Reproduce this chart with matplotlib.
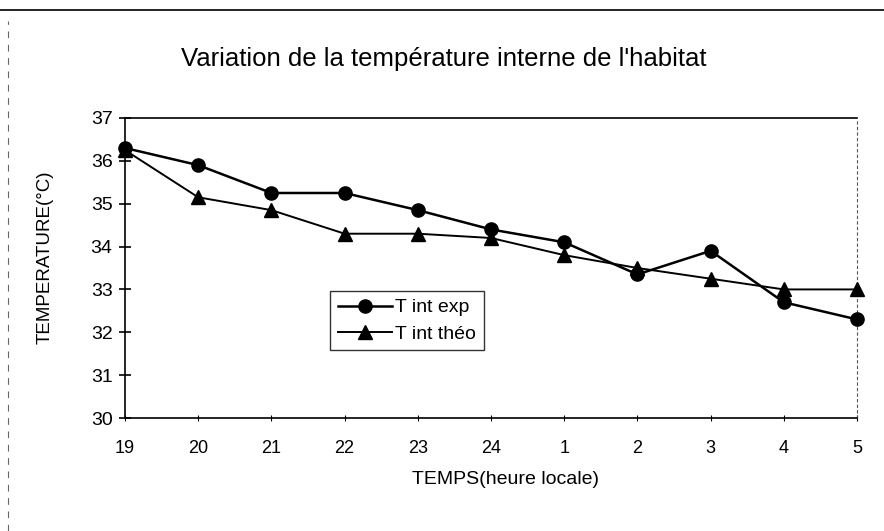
import matplotlib
matplotlib.use("Agg")
import matplotlib.pyplot as plt
from matplotlib.lines import Line2D

# Hours of the night (local time) and interior temperatures
hours = ["19", "20", "21", "22", "23", "24", "1", "2", "3", "4", "5"]
t_int_exp = [36.3, 35.9, 35.25, 35.25, 34.85, 34.4, 34.1, 33.35, 33.9, 32.7, 32.3]
t_int_theo = [36.25, 35.15, 34.85, 34.3, 34.3, 34.2, 33.8, 33.5, 33.25, 33.0, 33.0]
y_ticks = [30, 31, 32, 33, 34, 35, 36, 37]

plt.rcParams["font.family"] = ["Liberation Sans", "DejaVu Sans"]

fig = plt.figure(figsize=(8.84, 5.31), dpi=100)
ax = fig.add_axes([0.1414, 0.2128, 0.8281, 0.5650])

x = list(range(len(hours)))
ax.plot(x, t_int_exp, color="black", lw=1.8, marker="o", ms=9.5,
        label="T int exp", clip_on=False, zorder=3)
ax.plot(x, t_int_theo, color="black", lw=1.4, marker="^", ms=9.5,
        label="T int théo", clip_on=False, zorder=3)

ax.set_xlim(0, len(hours) - 1)
ax.set_ylim(30, 37)
ax.set_xticks(x)
ax.set_xticklabels(hours, fontsize=13)
ax.set_yticks(y_ticks)
ax.set_yticklabels([str(v) for v in y_ticks], fontsize=14)
ax.tick_params(axis="y", direction="inout", length=8, width=1.2, pad=5)
ax.tick_params(axis="x", direction="inout", length=5, width=0.8, pad=13)

for side in ("left", "bottom", "top"):
    ax.spines[side].set_linewidth(1.2)
    ax.spines[side].set_color("black")
ax.spines["right"].set_linestyle((0, (2, 3)))
ax.spines["right"].set_linewidth(0.8)
ax.spines["right"].set_color("#555555")

ax.set_xlabel("TEMPS(heure locale)", fontsize=14)
ax.xaxis.set_label_coords(0.52, -0.175)
ax.set_ylabel("TEMPERATURE(°C)", fontsize=13.5)
ax.yaxis.set_label_coords(-0.097, 0.537)

fig.text(0.502, 0.889, "Variation de la température interne de l'habitat",
         ha="center", va="center", fontsize=18.5)

leg = ax.legend(loc="lower left", bbox_to_anchor=(0.28, 0.225), fontsize=14,
                frameon=True, fancybox=False, edgecolor="black",
                handlelength=2.8, handletextpad=0.15, borderpad=0.4,
                labelspacing=0.45, borderaxespad=0)
leg.get_frame().set_linewidth(1.0)

# page border lines around the chart area
fig.add_artist(Line2D([0.0, 1.0], [0.982, 0.982], transform=fig.transFigure,
                      color="black", lw=1.2))
fig.add_artist(Line2D([0.009, 0.009], [0.0, 0.96], transform=fig.transFigure,
                      color="#666666", lw=0.8, ls=(0, (6, 6))))

fig.savefig("out.png", dpi=100, facecolor="white")
